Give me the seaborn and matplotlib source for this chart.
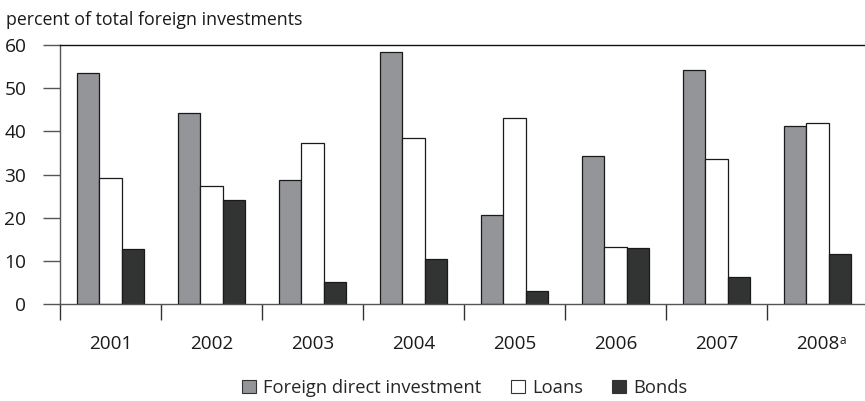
import numpy as np
import pandas as pd
import matplotlib
matplotlib.use("Agg")
import matplotlib.pyplot as plt
import seaborn as sns

years = ["2001", "2002", "2003", "2004", "2005", "2006", "2007", "2008"]
fdi = [53.4, 44.2, 28.7, 58.4, 20.6, 34.2, 54.2, 41.2]
loans = [29.3, 27.4, 37.2, 38.5, 43.2, 13.1, 33.7, 41.9]
bonds = [12.7, 24.1, 5.2, 10.5, 3.1, 12.9, 6.2, 11.6]
series = ["Foreign direct investment", "Loans", "Bonds"]
colors = {"Foreign direct investment": "#939598", "Loans": "#ffffff", "Bonds": "#323433"}

df = pd.DataFrame({"year": years * 3,
                   "type": np.repeat(series, len(years)),
                   "value": fdi + loans + bonds})

sns.set_style("white")
plt.rcParams["font.family"] = ["Open Sans", "DejaVu Sans"]

fig = plt.figure(figsize=(8.65, 4.01), dpi=100)
ax = fig.add_axes([60 / 865, 1 - 304 / 401, 1 - 60 / 865, (304 - 45) / 401])

sns.barplot(data=df, x="year", y="value", hue="type", hue_order=series,
            palette=colors, width=0.66, edgecolor="#1a1a1a", linewidth=0.9,
            saturation=1, ax=ax, legend=False)

ax.set_ylim(0, 60)
ax.set_xlim(-0.5, 7.47)
ax.set_yticks(range(0, 61, 10))
ax.set_xticks(range(len(years)))
ax.set_xticklabels(years)
ax.set_xticks(np.arange(-0.5, 7.0, 1), minor=True)
ax.tick_params(axis="y", left=True, length=12.2, width=1, color="#555555",
               pad=12, labelsize=13.8, labelcolor="#1a1a1a")
ax.tick_params(axis="x", which="major", length=0, pad=22, labelsize=13.6, labelcolor="#1a1a1a")
ax.tick_params(axis="x", which="minor", bottom=True, length=11.5, width=1, color="#333333")
ax.set_xlabel("")
ax.set_ylabel("")

# footnote marker on the last year
ax.annotate("a", xy=(7, 0), xycoords=("data", "axes fraction"),
            xytext=(16.0, -21.5), textcoords="offset points",
            ha="left", va="top", fontsize=8.5, color="#1a1a1a")

for side in ["left", "bottom", "top"]:
    ax.spines[side].set_visible(True)
    ax.spines[side].set_linewidth(1)
ax.spines["right"].set_visible(False)
ax.spines["top"].set_color("#111111")
ax.spines["bottom"].set_color("#555555")
ax.spines["left"].set_color("#555555")

fig.text(6 / 865, 1 - 25 / 401, "percent of total foreign investments",
         fontsize=12.8, color="#1a1a1a", va="baseline", ha="left")

handles = [plt.Rectangle((0, 0), 1, 1, facecolor=colors[s], edgecolor="#333333", linewidth=0.8)
           for s in series]
fig.legend(handles, series, loc="center", bbox_to_anchor=(465 / 865, 1 - 388 / 401),
           ncol=3, frameon=False, fontsize=13.2, handlelength=0.75, handleheight=0.75,
           handletextpad=0.4, columnspacing=1.6)

fig.savefig("out.png", dpi=100)
